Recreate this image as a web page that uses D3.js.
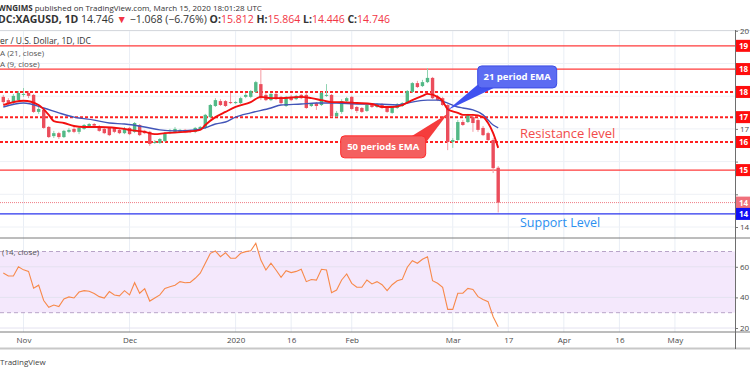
<!DOCTYPE html>
<html>
<head>
<meta charset="utf-8">
<script src="https://cdn.jsdelivr.net/npm/d3@7"></script>
<style>
  body { margin: 0; background: #fff; }
  svg { display: block; font-family: "Open Sans", sans-serif; }
</style>
</head>
<body>
<div id="chart"></div>
<script>
var svgWidth = 750;
var svgHeight = 375;

// trading calendar (weekdays, exchange closed on Christmas)
var firstDay = "2019-10-28";
var lastDay = "2020-06-01";
var holidays = ["2019-12-25"];

// daily candles, Oct 28 2019 .. Mar 13 2020
var opens = [17.98, 17.88, 17.82, 17.88, 18.04, 18.10, 18.04, 17.52, 17.58, 17.06,
  16.78, 16.87, 16.75, 16.91, 17.00, 16.91, 17.00, 17.09, 17.15, 17.06,
  17.00, 17.03, 17.03, 16.97, 16.87, 17.03, 16.91, 17.12, 16.94, 16.91,
  16.57, 16.57, 16.63, 16.87, 16.91, 16.91, 16.97, 16.94, 16.91, 17.00,
  17.03, 17.36, 17.70, 17.85, 17.85, 17.82, 17.79, 17.79, 17.98, 17.98,
  18.13, 18.37, 18.04, 17.88, 18.07, 17.98, 17.70, 17.98, 17.91, 18.04,
  18.04, 17.70, 17.79, 17.73, 18.01, 18.04, 17.39, 17.52, 17.85, 17.98,
  17.67, 17.64, 17.55, 17.76, 17.67, 17.76, 17.67, 17.49, 17.64, 17.70,
  17.79, 18.13, 18.40, 18.31, 18.43, 18.56, 17.98, 17.94, 17.73, 16.60,
  16.66, 17.21, 17.21, 17.36, 17.27, 17.03, 16.87, 16.66, 15.812];
var highs = [18.04, 17.94, 18.07, 18.16, 18.25, 18.16, 18.07, 17.67, 17.64, 17.09,
  16.94, 16.91, 16.97, 17.03, 17.06, 17.09, 17.15, 17.18, 17.18, 17.12,
  17.03, 17.06, 17.06, 17.00, 17.06, 17.06, 17.21, 17.15, 16.97, 16.94,
  16.66, 16.72, 16.91, 17.00, 17.06, 17.00, 17.00, 16.97, 17.06, 17.09,
  17.46, 17.76, 17.94, 17.91, 17.88, 18.10, 17.85, 17.98, 18.10, 18.19,
  18.47, 18.83, 18.10, 18.10, 18.10, 18.01, 18.01, 18.04, 18.04, 18.07,
  18.10, 17.79, 17.82, 18.13, 18.37, 18.07, 17.55, 17.91, 17.98, 18.01,
  17.70, 17.67, 17.76, 17.79, 17.79, 17.79, 17.70, 17.70, 17.79, 17.82,
  18.19, 18.43, 18.47, 18.50, 18.86, 18.59, 18.04, 17.98, 17.76, 16.72,
  17.27, 17.27, 17.46, 17.46, 17.33, 17.09, 16.91, 16.72, 15.864];
var lows = [17.76, 17.70, 17.76, 17.85, 17.98, 17.94, 17.49, 17.46, 17.00, 16.72,
  16.72, 16.69, 16.72, 16.87, 16.87, 16.84, 16.97, 17.03, 17.06, 16.91,
  16.84, 16.78, 16.87, 16.84, 16.84, 16.81, 16.87, 16.78, 16.84, 16.48,
  16.54, 16.54, 16.60, 16.84, 16.87, 16.87, 16.87, 16.87, 16.87, 16.97,
  17.00, 17.33, 17.67, 17.70, 17.67, 17.76, 17.76, 17.76, 17.94, 17.94,
  18.10, 17.88, 17.85, 17.85, 17.88, 17.76, 17.67, 17.85, 17.88, 17.91,
  17.61, 17.67, 17.58, 17.70, 17.98, 17.36, 17.36, 17.46, 17.79, 17.58,
  17.49, 17.49, 17.52, 17.64, 17.64, 17.61, 17.49, 17.46, 17.61, 17.67,
  17.76, 18.10, 18.25, 18.28, 18.40, 17.91, 17.85, 17.70, 16.35, 16.42,
  16.63, 17.09, 17.18, 16.91, 16.91, 16.78, 16.63, 15.65, 14.446];
var closes = [17.82, 17.76, 18.01, 18.10, 18.07, 18.01, 17.52, 17.61, 17.03, 16.75,
  16.87, 16.75, 16.94, 16.97, 16.91, 17.03, 17.12, 17.15, 17.10, 16.94,
  16.87, 16.81, 16.91, 16.87, 17.00, 16.84, 17.18, 16.81, 16.87, 16.54,
  16.60, 16.69, 16.87, 16.91, 17.00, 16.97, 16.91, 16.91, 17.03, 17.06,
  17.43, 17.73, 17.88, 17.73, 17.70, 17.79, 17.82, 17.94, 18.04, 18.16,
  18.43, 17.94, 17.88, 18.07, 17.91, 17.79, 17.98, 17.88, 18.01, 17.94,
  17.64, 17.76, 17.70, 18.10, 18.04, 17.39, 17.49, 17.85, 17.94, 17.61,
  17.55, 17.52, 17.73, 17.67, 17.76, 17.64, 17.52, 17.67, 17.76, 17.79,
  18.16, 18.40, 18.28, 18.43, 18.56, 17.94, 17.88, 17.73, 16.60, 16.66,
  17.21, 17.12, 17.43, 17.18, 16.97, 16.81, 16.66, 15.80, 14.746];

// EMA lines: [bar number, value]
var ema9 = [[0, 17.73], [4, 17.86], [7, 17.73], [9, 17.43], [10, 17.24], [12, 17.18], [14, 17.09],
  [16, 17.06], [19, 17.06], [24, 17.00], [25, 16.97], [28, 16.91], [30, 16.84], [32, 16.87],
  [36, 16.91], [39, 16.97], [40, 17.12], [42, 17.36], [44, 17.52], [46, 17.67], [49, 17.82],
  [51, 17.98], [53, 17.94], [55, 17.94], [59, 17.98], [61, 17.94], [63, 17.88], [65, 17.82],
  [67, 17.82], [70, 17.79], [73, 17.76], [75, 17.67], [77, 17.67], [79, 17.73], [81, 17.88],
  [83, 18.01], [84, 18.07], [86, 17.98], [87, 17.85], [88, 17.60], [90, 17.49], [91, 17.43],
  [93, 17.43], [95, 17.36], [96, 17.18], [97, 16.87], [98, 16.42]];
var ema21 = [[0, 17.67], [4, 17.79], [8, 17.64], [11, 17.49], [14, 17.36], [18, 17.27], [21, 17.18],
  [24, 17.15], [28, 17.06], [31, 16.97], [34, 16.94], [38, 16.97], [40, 17.03], [42, 17.15],
  [44, 17.21], [46, 17.36], [49, 17.49], [53, 17.64], [55, 17.73], [59, 17.76], [62, 17.79],
  [66, 17.79], [70, 17.76], [74, 17.76], [78, 17.73], [80, 17.79], [82, 17.85], [84, 17.88],
  [86, 17.88], [88, 17.79], [90, 17.67], [91, 17.64], [93, 17.58], [95, 17.43], [97, 17.12],
  [98, 17.03]];

// RSI (14) per bar
var rsi = [56, 54, 54, 60, 58, 57, 46, 48, 38, 33.5,
  35, 34, 39, 40.3, 39.6, 43.5, 44.4, 44, 42.5, 40.5,
  39.6, 43.8, 41.6, 41, 44.4, 41.6, 49.6, 42.7, 45.7, 37.6,
  39.6, 41.6, 45.9, 47, 48, 50.3, 49.6, 49.8, 52.5, 55.8,
  62.3, 68.8, 70.3, 66.6, 69.2, 65.6, 65.6, 68.8, 69.9, 70.5,
  75.4, 64.4, 57.9, 62.3, 57.9, 53.1, 57.5, 56.2, 57, 58.4,
  50.3, 51.7, 51.3, 58.4, 57.9, 43.1, 44.8, 51.4, 55.3, 49.2,
  46.6, 46.6, 51.4, 48.8, 50.3, 48.3, 44.4, 48.3, 50.9, 51.8,
  59.7, 64, 62.3, 64.9, 66.6, 50.9, 49.2, 46.6, 32.2, 32.2,
  42.7, 42.7, 45.9, 45.2, 40.5, 38.7, 37.2, 27.4, 20.8];

// drawn horizontal levels
var solidLevels = [19.54, 18.83, 15.74];
var dottedLevels = [18.13, 17.36, 16.60];
var supportLevel = 14.40;
var lastPrice = 14.746;

var priceTicks = [14, 15, 16, 17, 18, 19, 20];
var rsiTicks = [20, 40, 60];
var rsiBand = [30, 70];
var timeTickDates = ["2019-11-01", "2019-12-02", "2020-01-01", "2020-01-16", "2020-02-03",
  "2020-03-02", "2020-03-17", "2020-04-01", "2020-04-16", "2020-05-01"];
var timeTickLabels = ["Nov", "Dec", "2020", "16", "Feb", "Mar", "17", "Apr", "16", "May"];

var axisX = 735;
var pane = { top: 31, bottom: 238 };
var rsiPane = { top: 238, bottom: 332 };

var fmt = d3.timeFormat("%Y-%m-%d");
var parse = d3.timeParse("%Y-%m-%d");
var tradingDays = d3.timeDay.range(parse(firstDay), parse(lastDay))
  .filter(d => d.getDay() !== 0 && d.getDay() !== 6)
  .map(fmt)
  .filter(s => holidays.indexOf(s) < 0);

var step = 5.05;
var x = d3.scalePoint()
  .domain(tradingDays)
  .range([3.3, 3.3 + (tradingDays.length - 1) * step]);
var y = d3.scaleLinear().domain([14, 20]).range([227, 30.8]);
var yRsi = d3.scaleLinear().domain([20, 70]).range([328, 251.5]);

var bars = closes.map(function(c, i) {
  return { date: tradingDays[i], o: opens[i], h: highs[i], l: lows[i], c: c, rsi: rsi[i] };
});

var svg = d3.select("#chart")
  .append("svg")
  .attr("width", svgWidth)
  .attr("height", svgHeight);

svg.append("defs").append("clipPath").attr("id", "plot")
  .append("rect").attr("x", 0).attr("y", pane.top).attr("width", axisX).attr("height", rsiPane.bottom - pane.top);

var plot = svg.append("g").attr("clip-path", "url(#plot)");

// grid
plot.selectAll("line.vgrid")
  .data(timeTickDates)
  .enter().append("line")
  .attr("x1", d => x(d)).attr("x2", d => x(d))
  .attr("y1", pane.top).attr("y2", rsiPane.bottom)
  .attr("stroke", "#e9eef5");
plot.selectAll("line.hgrid")
  .data(priceTicks)
  .enter().append("line")
  .attr("x1", 0).attr("x2", axisX)
  .attr("y1", d => y(d)).attr("y2", d => y(d))
  .attr("stroke", "#eef1f6");

// RSI pane
plot.append("rect")
  .attr("x", 0).attr("width", axisX)
  .attr("y", yRsi(rsiBand[1])).attr("height", yRsi(rsiBand[0]) - yRsi(rsiBand[1]))
  .attr("fill", "#f4e8fc");
plot.selectAll("line.rgrid")
  .data(rsiTicks)
  .enter().append("line")
  .attr("x1", 0).attr("x2", axisX)
  .attr("y1", d => yRsi(d)).attr("y2", d => yRsi(d))
  .attr("stroke", "#e4e2f0");
plot.selectAll("line.band")
  .data(rsiBand)
  .enter().append("line")
  .attr("x1", 0).attr("x2", axisX)
  .attr("y1", d => yRsi(d)).attr("y2", d => yRsi(d))
  .attr("stroke", "#b8a4c8")
  .attr("stroke-dasharray", "4,3");
plot.append("path")
  .datum(bars)
  .attr("fill", "none")
  .attr("stroke", "#f7894a")
  .attr("stroke-width", 1.1)
  .attr("d", d3.line().x(d => x(d.date)).y(d => yRsi(d.rsi)));

// price pane
var price = plot.append("g");
price.selectAll("line.solid")
  .data(solidLevels)
  .enter().append("line")
  .attr("x1", 0).attr("x2", axisX)
  .attr("y1", d => y(d)).attr("y2", d => y(d))
  .attr("stroke", "#ff3b3b").attr("stroke-width", 1.2);
price.selectAll("line.dotted")
  .data(dottedLevels)
  .enter().append("line")
  .attr("x1", 0).attr("x2", axisX)
  .attr("y1", d => y(d)).attr("y2", d => y(d))
  .attr("stroke", "#ff2020").attr("stroke-width", 2)
  .attr("stroke-dasharray", "3,2");
price.append("line")
  .attr("x1", 0).attr("x2", axisX)
  .attr("y1", y(lastPrice)).attr("y2", y(lastPrice))
  .attr("stroke", "#f07c85").attr("stroke-dasharray", "1,1");
price.append("line")
  .attr("x1", 0).attr("x2", axisX)
  .attr("y1", y(supportLevel)).attr("y2", y(supportLevel))
  .attr("stroke", "#2a35ee").attr("stroke-width", 1.2);

var candle = price.selectAll("g.candle")
  .data(bars)
  .enter().append("g");
candle.append("line")
  .attr("x1", d => x(d.date)).attr("x2", d => x(d.date))
  .attr("y1", d => y(d.h)).attr("y2", d => y(d.l))
  .attr("stroke", d => d.c >= d.o ? "#8fd3b1" : "#f49aa3");
candle.append("rect")
  .attr("x", d => x(d.date) - 1.7)
  .attr("width", 3.4)
  .attr("y", d => y(Math.max(d.o, d.c)))
  .attr("height", d => Math.max(1, Math.abs(y(d.o) - y(d.c))))
  .attr("fill", d => d.c >= d.o ? "#53b987" : "#eb4d5c");

var emaLine = d3.line()
  .x(d => x(tradingDays[d[0]]))
  .y(d => y(d[1]))
  .curve(d3.curveMonotoneX);
price.append("path").datum(ema21)
  .attr("fill", "none").attr("stroke", "#4255b8").attr("stroke-width", 1.4)
  .attr("d", emaLine);
price.append("path").datum(ema9)
  .attr("fill", "none").attr("stroke", "#f20f0f").attr("stroke-width", 1.9)
  .attr("d", emaLine);

// callouts
var tipX = x(tradingDays[88]);
var blueTip = y(17.58);
var redTip = y(17.46);
price.append("path")
  .attr("d", `M${tipX},${blueTip}L${tipX + 32},${blueTip - 27}L${tipX + 46},${blueTip - 22}Z`)
  .attr("fill", "#3f51f0");
price.append("rect")
  .attr("x", tipX + 30).attr("y", blueTip - 44)
  .attr("width", 79).attr("height", 22).attr("rx", 4)
  .attr("fill", "#5c6cf2").attr("stroke", "#3b4de6");
price.append("text")
  .attr("x", tipX + 69.5).attr("y", blueTip - 29.5)
  .attr("text-anchor", "middle")
  .attr("fill", "#fff").style("font-size", "9.5px").style("font-weight", "bold")
  .text("21 period EMA");

price.append("path")
  .attr("d", `M${tipX},${redTip}L${tipX - 37},${redTip + 23}L${tipX - 22},${redTip + 29}Z`)
  .attr("fill", "#f53c3c");
price.append("rect")
  .attr("x", tipX - 107).attr("y", redTip + 22)
  .attr("width", 85).attr("height", 22).attr("rx", 4)
  .attr("fill", "#f45f5f").attr("stroke", "#ff2a2a");
price.append("text")
  .attr("x", tipX - 64.5).attr("y", redTip + 36.5)
  .attr("text-anchor", "middle")
  .attr("fill", "#fff").style("font-size", "9.5px").style("font-weight", "bold")
  .text("50 periods EMA");

price.append("text")
  .attr("x", 520).attr("y", y(dottedLevels[2]) - 4)
  .attr("fill", "#f24b4b").style("font-size", "13px")
  .text("Resistance level");
price.append("text")
  .attr("x", 520).attr("y", y(supportLevel) + 13)
  .attr("fill", "#2b8ff0").style("font-size", "12.5px")
  .text("Support Level");

// frame lines
svg.append("line").attr("x1", 0).attr("x2", svgWidth).attr("y1", 30.5).attr("y2", 30.5).attr("stroke", "#d6d9de");
svg.append("line").attr("x1", 0).attr("x2", svgWidth).attr("y1", pane.bottom).attr("y2", pane.bottom).attr("stroke", "#7a7a7a");
svg.append("line").attr("x1", 0).attr("x2", svgWidth).attr("y1", rsiPane.bottom).attr("y2", rsiPane.bottom).attr("stroke", "#7a7a7a");
svg.append("line").attr("x1", 0).attr("x2", svgWidth).attr("y1", 348.5).attr("y2", 348.5).attr("stroke", "#c8c8c8").attr("stroke-width", 2);

// price labels on the axis
var axisLabels = solidLevels.concat(dottedLevels).map(v => ({ v: v, fill: "#ff0d0d" }))
  .concat([{ v: lastPrice, fill: "#f0707b" }, { v: supportLevel, fill: "#1010f5" }]);

// axes (tick labels hidden behind a price tag are dropped, as on the platform)
var hiddenTick = d => axisLabels.some(t => Math.abs(y(t.v) - y(d)) < 10);
var priceAxis = svg.append("g")
  .attr("transform", `translate(${axisX},0)`)
  .call(d3.axisRight(y).tickValues(priceTicks)
    .tickFormat(d => hiddenTick(d) ? "" : d3.format("d")(d)).tickSize(3).tickPadding(2));
var rsiAxis = svg.append("g")
  .attr("transform", `translate(${axisX},0)`)
  .call(d3.axisRight(yRsi).tickValues(rsiTicks).tickFormat(d3.format("d")).tickSize(3).tickPadding(2));
var timeAxis = svg.append("g")
  .attr("transform", `translate(0,${rsiPane.bottom})`)
  .call(d3.axisBottom(x).tickValues(timeTickDates)
    .tickFormat((d, i) => timeTickLabels[i]).tickSize(0).tickPadding(5));
[priceAxis, rsiAxis, timeAxis].forEach(function(a) {
  a.selectAll("path.domain").remove();
  a.selectAll("text").attr("fill", "#4a4a4a").style("font-size", "8px").style("font-family", "Open Sans, sans-serif");
  a.selectAll("line").attr("stroke", "#777");
});
svg.append("line").attr("x1", axisX + 0.5).attr("x2", axisX + 0.5).attr("y1", 30).attr("y2", 349).attr("stroke", "#6e6e6e");

var tag = svg.selectAll("g.tag")
  .data(axisLabels)
  .enter().append("g")
  .attr("transform", d => `translate(${axisX + 1},${y(d.v)})`);
tag.append("rect").attr("x", 0).attr("y", -6).attr("width", 20).attr("height", 12).attr("fill", d => d.fill);
tag.append("text").attr("x", 3).attr("y", 3)
  .attr("fill", "#fff").style("font-size", "8px").style("font-weight", "bold")
  .text(d => d3.format(".0f")(Math.floor(d.v)));

// texts with hidden prefix (cropped on the left)
function croppedText(full, hidden, ty, size, weight, color) {
  var t = svg.append("text").attr("y", ty)
    .style("font-size", size + "px").style("font-weight", weight)
    .attr("fill", color).text(hidden);
  var w = t.node().getComputedTextLength();
  t.text(full).attr("x", -w);
  return t;
}
croppedText("Silver / U.S. Dollar, 1D, IDC", "Silv", 44, 8.5, "normal", "#333");
croppedText("EMA (21, close)", "EM", 56, 8, "normal", "#555");
croppedText("EMA (9, close)", "EM", 67, 8, "normal", "#555");
croppedText("RSI (14, close)", "RSI ", 255, 8, "normal", "#555");
croppedText("TradingView", "", 365, 8, "normal", "#444");

var head1 = svg.append("text").attr("x", -2).attr("y", 11).style("font-size", "8px").attr("fill", "#333");
head1.append("tspan").style("font-weight", "bold").text("WNGIMS");
head1.append("tspan").text(" published on TradingView.com, March 15, 2020 18:01:28 UTC");

var head2 = svg.append("text").attr("x", -2).attr("y", 23).style("font-size", "10.5px").attr("fill", "#333");
var parts = [["DC:XAGUSD, 1D", "bold", "#333"], ["  14.746 ", "normal", "#333"], ["\u25BC", "normal", "#f23645"],
  [" \u22121.068 (\u22126.76%) ", "normal", "#333"], ["O:", "bold", "#333"], ["15.812", "normal", "#f23645"],
  [" H:", "bold", "#333"], ["15.864", "normal", "#f23645"], [" L:", "bold", "#333"], ["14.446", "normal", "#f23645"],
  [" C:", "bold", "#333"], ["14.746", "normal", "#f23645"]];
parts.forEach(function(p) {
  head2.append("tspan").style("font-weight", p[1]).attr("fill", p[2]).text(p[0]);
});
</script>
</body>
</html>
